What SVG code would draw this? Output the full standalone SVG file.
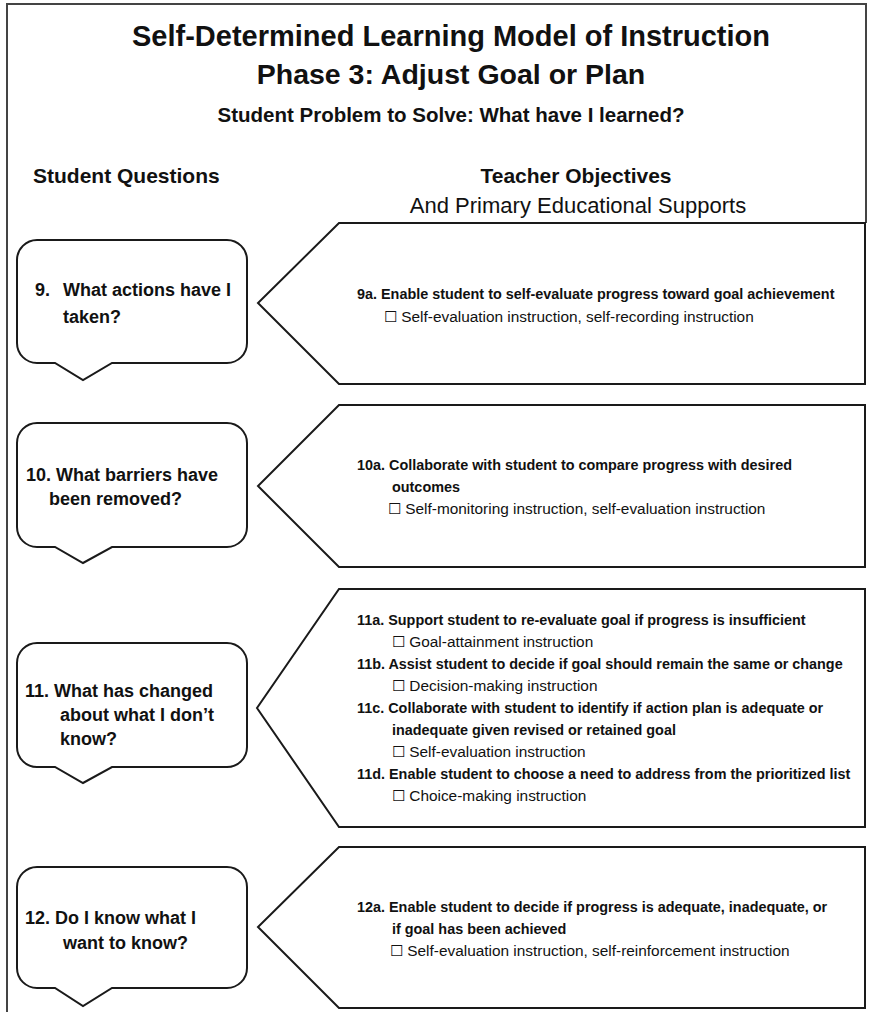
<svg xmlns="http://www.w3.org/2000/svg" width="870" height="1012" viewBox="0 0 870 1012">
<style>
.frame{fill:none;stroke:#444;stroke-width:2}
.shape{fill:#fff;stroke:#1a1a1a;stroke-width:2;stroke-linejoin:miter}
text{font-family:"Liberation Sans",Arial,sans-serif;fill:#111}
.t1{font-size:29px;font-weight:bold}
.t2{font-size:28.5px;font-weight:bold}
.t3{font-size:20.5px;font-weight:bold}
.hd{font-size:21px;font-weight:bold}
.hr{font-size:22px}
.q{font-size:18px;font-weight:bold}
.o{font-size:14.4px;font-weight:bold}
.s{font-size:15.4px}
</style>
<rect x="0" y="0" width="870" height="1012" fill="#fff"/>
<g id="frame">
<path class="frame" d="M7,1012 V4 H866 V223"/>
</g>
<g id="header">
<text class="t1" x="451" y="46" text-anchor="middle">Self-Determined Learning Model of Instruction</text>
<text class="t2" x="451" y="84" text-anchor="middle">Phase 3: Adjust Goal or Plan</text>
<text class="t3" x="451" y="122" text-anchor="middle">Student Problem to Solve: What have I learned?</text>
<text class="hd" x="33" y="183">Student Questions</text>
<text class="hd" x="576" y="183" text-anchor="middle">Teacher Objectives</text>
<text class="hr" x="578" y="213" text-anchor="middle">And Primary Educational Supports</text>
</g>
<g id="connectors"></g>
<g id="q9">
<path class="shape" d="M37,240 H227 A20,20 0 0 1 247,260 V343 A20,20 0 0 1 227,363 H112 L83,380 L55,363 H37 A20,20 0 0 1 17,343 V260 A20,20 0 0 1 37,240 Z"/>
<text class="q" x="35" y="296">9.</text>
<text class="q" x="63" y="296">What actions have I</text>
<text class="q" x="63" y="323">taken?</text>
</g>
<g id="o9">
<path class="shape" d="M339,223 H865 V384 H339 L258,303 Z"/>
<text class="o" x="357" y="299">9a. Enable student to self-evaluate progress toward goal achievement</text>
<text class="s" x="384" y="322">☐ Self-evaluation instruction, self-recording instruction</text>
</g>
<g id="q10">
<path class="shape" d="M37,423 H227 A20,20 0 0 1 247,443 V527 A20,20 0 0 1 227,547 H112 L83,563 L55,547 H37 A20,20 0 0 1 17,527 V443 A20,20 0 0 1 37,423 Z"/>
<text class="q" x="26" y="481">10. What barriers have</text>
<text class="q" x="49" y="505">been removed?</text>
</g>
<g id="o10">
<path class="shape" d="M339,405 H865 V567 H339 L258,486 Z"/>
<text class="o" x="357" y="470">10a. Collaborate with student to compare progress with desired</text>
<text class="o" x="392" y="492">outcomes</text>
<text class="s" x="388" y="514">☐ Self-monitoring instruction, self-evaluation instruction</text>
</g>
<g id="q11">
<path class="shape" d="M37,643 H227 A20,20 0 0 1 247,663 V747 A20,20 0 0 1 227,767 H112 L83,783 L55,767 H37 A20,20 0 0 1 17,747 V663 A20,20 0 0 1 37,643 Z"/>
<text class="q" x="25" y="697">11. What has changed</text>
<text class="q" x="60" y="721">about what I don’t</text>
<text class="q" x="60" y="745">know?</text>
</g>
<g id="o11">
<path class="shape" d="M339,589 H865 V827 H339 L257,708 Z"/>
<text class="o" x="357" y="625">11a. Support student to re-evaluate goal if progress is insufficient</text>
<text class="s" x="392" y="647">☐ Goal-attainment instruction</text>
<text class="o" x="357" y="669">11b. Assist student to decide if goal should remain the same or change</text>
<text class="s" x="392" y="691">☐ Decision-making instruction</text>
<text class="o" x="357" y="713">11c. Collaborate with student to identify if action plan is adequate or</text>
<text class="o" x="392" y="735">inadequate given revised or retained goal</text>
<text class="s" x="392" y="757">☐ Self-evaluation instruction</text>
<text class="o" x="357" y="779">11d. Enable student to choose a need to address from the prioritized list</text>
<text class="s" x="392" y="801">☐ Choice-making instruction</text>
</g>
<g id="q12">
<path class="shape" d="M37,867 H227 A20,20 0 0 1 247,887 V968 A20,20 0 0 1 227,988 H112 L83,1006 L55,988 H37 A20,20 0 0 1 17,968 V887 A20,20 0 0 1 37,867 Z"/>
<text class="q" x="25" y="924">12. Do I know what I</text>
<text class="q" x="63" y="949">want to know?</text>
</g>
<g id="o12">
<path class="shape" d="M339,847 H865 V1008 H339 L258,927 Z"/>
<text class="o" x="357" y="912">12a. Enable student to decide if progress is adequate, inadequate, or</text>
<text class="o" x="392" y="934">if goal has been achieved</text>
<text class="s" x="390" y="956">☐ Self-evaluation instruction, self-reinforcement instruction</text>
</g>
</svg>
